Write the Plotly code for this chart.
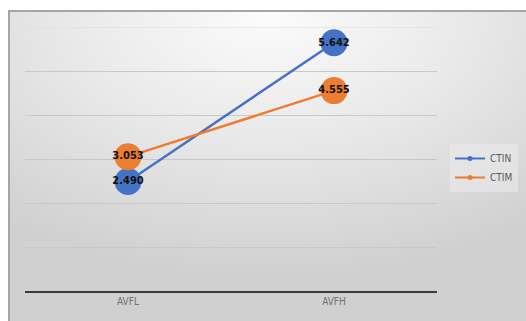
import plotly.graph_objects as go
import base64

categories = ["AVFL", "AVFH"]
ctin = [2.490, 5.642]
ctim = [3.053, 4.555]
series_names = ["CTIN", "CTIM"]
colors = ["#4472C4", "#ED7D31"]
y_max = 6

L, R, T, B = 25, 89, 27, 30
W, H = 526, 321
pw, ph = W - L - R, H - T - B

svg = f'''<svg xmlns="http://www.w3.org/2000/svg" width="518" height="311" viewBox="0 0 518 311" preserveAspectRatio="none">
<defs><radialGradient id="g" cx="0.5" cy="0.05" r="0.8" fx="0.5" fy="0.0">
<stop offset="0" stop-color="#fcfcfc"/><stop offset="0.5" stop-color="#e8e8e8"/><stop offset="1" stop-color="#d0d0d0"/></radialGradient></defs>
<rect x="1" y="1" width="518" height="311" fill="url(#g)" stroke="#a6a6a6" stroke-width="2"/></svg>'''
src = "data:image/svg+xml;base64," + base64.b64encode(svg.encode()).decode()

fig = go.Figure()
for name, vals, c in zip(series_names, [ctin, ctim], colors):
    fig.add_trace(go.Scatter(x=categories, y=vals, mode="lines+markers", name=name,
                             line=dict(color=c, width=2.5),
                             marker=dict(color=c, size=27), showlegend=False))
for name, vals, c in zip(series_names, [ctin, ctim], colors):
    fig.add_trace(go.Scatter(x=categories, y=vals, mode="text",
                             text=[f"{v:.3f}" for v in vals], textposition="middle center",
                             textfont=dict(family="DejaVu Sans Condensed, Liberation Sans Narrow, sans-serif",
                                           size=11, color="#111111", weight=600),
                             showlegend=False, hoverinfo="skip"))
for name, c in zip(series_names, colors):
    fig.add_trace(go.Scatter(x=[None], y=[None], mode="lines+markers", name=name,
                             line=dict(color=c, width=2), marker=dict(color=c, size=5)))

x0 = (8 - L) / pw
x1 = (W - L) / pw
y0 = (H - B - 10) / ph
fig.add_layout_image(dict(source=src, xref="paper", yref="paper", x=x0, y=y0,
                          sizex=x1 - x0, sizey=(H - 10) / ph, sizing="stretch",
                          xanchor="left", yanchor="top", layer="below"))
fig.add_shape(type="line", xref="paper", yref="y", x0=0, x1=1, y0=y_max, y1=y_max,
              line=dict(color="#dcdcdc", width=1), layer="below")

fig.update_layout(
    width=W, height=H,
    margin=dict(l=L, r=R, t=T, b=B, autoexpand=False),
    paper_bgcolor="white", plot_bgcolor="rgba(0,0,0,0)",
    font=dict(family="DejaVu Sans Condensed, Liberation Sans Narrow, sans-serif", size=10, color="#595959"),
    xaxis=dict(type="category", range=[-0.5, 1.5], showgrid=False, zeroline=False,
               showline=True, linecolor="#3a3a3a", linewidth=2, ticks="",
               tickfont=dict(size=10, color="#707070"), fixedrange=True),
    yaxis=dict(range=[0, y_max], dtick=1, showgrid=True, gridcolor="#c8c8c8", gridwidth=1,
               showticklabels=False, zeroline=False, showline=False, fixedrange=True),
    legend=dict(x=(450 - L) / pw, y=(291 - 168) / ph, xanchor="left", yanchor="middle",
                bgcolor="rgba(238,238,238,0.5)", font=dict(size=10, color="#595959"),
                itemwidth=30, tracegroupgap=4),
    showlegend=True,
)
fig.write_html("out.html")
